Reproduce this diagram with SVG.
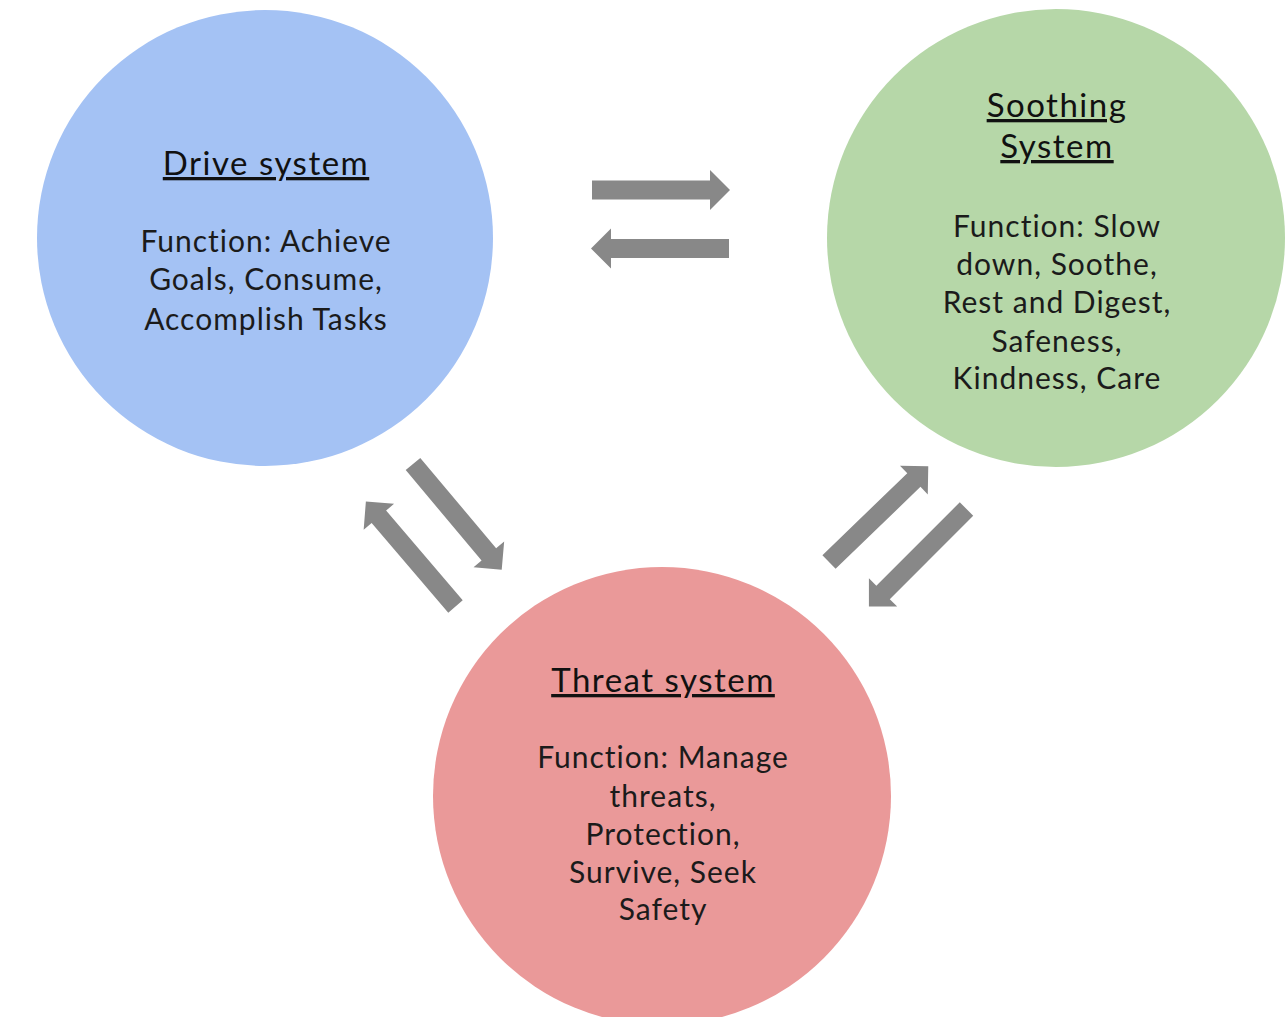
<svg xmlns="http://www.w3.org/2000/svg" width="1287" height="1017" viewBox="0 0 1287 1017">
<defs>
<style>
.t{font-family:Lato,"Noto Sans",sans-serif;font-size:30px;letter-spacing:1px;fill:#1b1b1b;text-anchor:middle}
.h{font-family:Lato,"Noto Sans",sans-serif;font-size:33px;letter-spacing:1.5px;fill:#111;text-anchor:middle;text-decoration:underline}
.arr{fill:#888888}
</style>
<path id="ar" d="M0,-9.5 H118 V-20 L138,0 L118,20 V9.5 H0 Z"/>
</defs>
<rect width="1287" height="1017" fill="#ffffff"/>
<g id="drive">
<circle cx="265" cy="238" r="228" fill="#A4C2F4"/>
<text class="h" x="266" y="175">Drive system</text>
<text class="t" x="266" y="252">Function: Achieve</text>
<text class="t" x="266" y="290">Goals, Consume,</text>
<text class="t" x="266" y="330">Accomplish Tasks</text>
</g>
<g id="soothing">
<circle cx="1056" cy="238" r="229" fill="#B6D7A8"/>
<text class="h" x="1057" y="117">Soothing</text>
<text class="h" x="1057" y="158">System</text>
<text class="t" x="1057" y="237">Function: Slow</text>
<text class="t" x="1057" y="275">down, Soothe,</text>
<text class="t" x="1057" y="313">Rest and Digest,</text>
<text class="t" x="1057" y="352">Safeness,</text>
<text class="t" x="1057" y="389">Kindness, Care</text>
</g>
<g id="threat">
<circle cx="662" cy="796" r="229" fill="#EA9999"/>
<text class="h" x="663" y="692">Threat system</text>
<text class="t" x="663" y="768">Function: Manage</text>
<text class="t" x="663" y="807">threats,</text>
<text class="t" x="663" y="845">Protection,</text>
<text class="t" x="663" y="883">Survive, Seek</text>
<text class="t" x="663" y="920">Safety</text>
</g>
<g id="connectors" class="arr">
<use href="#ar" transform="translate(592,190)"/>
<use href="#ar" transform="translate(729,248.5) rotate(180)"/>
<use href="#ar" transform="translate(413,464) rotate(50)"/>
<use href="#ar" transform="translate(455.5,606.5) rotate(229.5)"/>
<use href="#ar" transform="translate(829,562) rotate(-44)"/>
<use href="#ar" transform="translate(966.5,509) rotate(135)"/>
</g>
</svg>
